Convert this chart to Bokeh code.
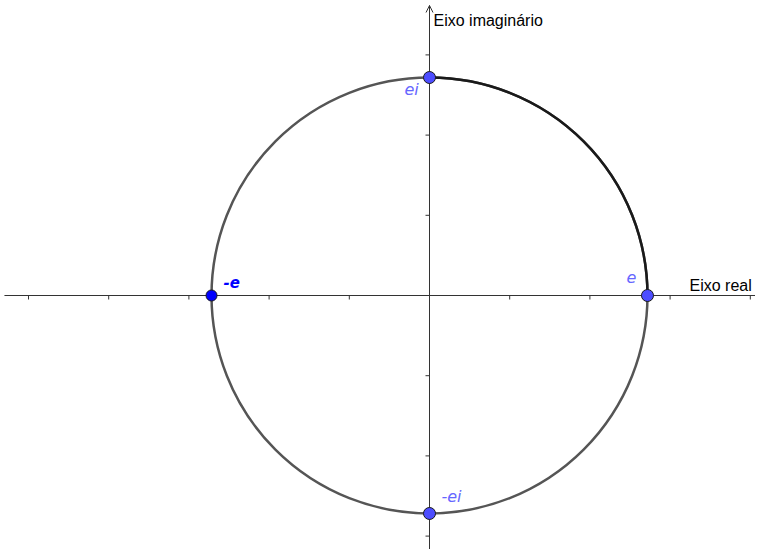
import math
from bokeh.plotting import figure
from bokeh.models import Arrow, OpenHead, ColumnDataSource
from bokeh.core.properties import value
from bokeh.embed import file_html
from bokeh.resources import INLINE

# ---- data ----
E = 2.718
x_ticks = [-5, -4, -3, -2, -1, 1, 2, 3, 4]
y_ticks = [-3, -2, -1, 1, 2, 3]
pt_names = ["e", "ei", "-ei"]
pt_x = [E, 0, 0]
pt_y = [0, E, -E]
neg_e_x = [-E]
neg_e_y = [0]
axis_labels = ["Eixo real", "Eixo imaginário"]

# ---- layout ----
S = 80.2  # px per unit
W, H = 755, 549
ox, oy = 429, 295  # origin in frame pixels
x0, x1 = -ox / S, (W - ox) / S
y1, y0 = oy / S, -(H - oy) / S

p = figure(width=W, height=H, x_range=(x0, x1), y_range=(y0, y1),
           output_backend="svg", toolbar_location=None,
           min_border=0, outline_line_color=None)
p.xaxis.visible = False
p.yaxis.visible = False
p.grid.visible = False
p.background_fill_color = "white"

axis_col = "#333333"
# axes
p.segment(x0=[-5.3], y0=[0], x1=[x1 + 0.1], y1=[0], line_color=axis_col, line_width=1)
p.segment(x0=[0], y0=[y0 - 0.1], x1=[0], y1=[y1 - 5 / S], line_color=axis_col, line_width=1)
p.add_layout(Arrow(end=OpenHead(size=7, line_color=axis_col, line_width=1),
                   x_start=0, y_start=y1 - 0.3, x_end=0, y_end=y1 - 5 / S,
                   line_color=axis_col, line_width=1))

# ticks
tl = 4 / S
p.segment(x0=x_ticks, y0=[0] * len(x_ticks), x1=x_ticks, y1=[-tl] * len(x_ticks),
          line_color=axis_col, line_width=1)
p.segment(x0=[0] * len(y_ticks), y0=y_ticks, x1=[-tl] * len(y_ticks), y1=y_ticks,
          line_color=axis_col, line_width=1)

# circle
p.arc(x=[0], y=[0], radius=E, start_angle=0, end_angle=2 * math.pi,
      line_color="#555555", line_width=2.5)
p.arc(x=[0], y=[0], radius=E, start_angle=0, end_angle=math.pi / 2,
      line_color="#1a1a1a", line_width=2.5)

# points
p.scatter(x=pt_x, y=pt_y, size=12, fill_color="#4d4dff",
          line_color="#1a1a1a", line_width=1)
p.scatter(x=neg_e_x, y=neg_e_y, size=11, fill_color="#0000ff",
          line_color="#1a1a1a", line_width=1)

# point labels
src = ColumnDataSource(dict(x=pt_x, y=pt_y, t=pt_names,
                            xo=[-21, -25, 12], yo=[-19, 12, -17]))
p.text(x="x", y="y", text="t", source=src, x_offset="xo", y_offset="yo",
       text_font=value("DejaVu Sans"), text_font_style="italic",
       text_font_size="16px", text_color="#6666ff", text_baseline="alphabetic")
p.text(x=neg_e_x, y=neg_e_y, text=["-e"], x_offset=12, y_offset=-14,
       text_font=value("DejaVu Sans"), text_font_style="bold italic",
       text_font_size="15px", text_color="#0000ff", text_baseline="alphabetic")

# axis labels
p.text(x=[0, 0], y=[0, 0], text=axis_labels, x_offset=[260, 4], y_offset=[-10, -275],
       text_font=value("Liberation Sans"), text_font_size="16px",
       text_color="black", text_baseline="alphabetic")

open("out.html", "w").write(file_html(p, INLINE))
